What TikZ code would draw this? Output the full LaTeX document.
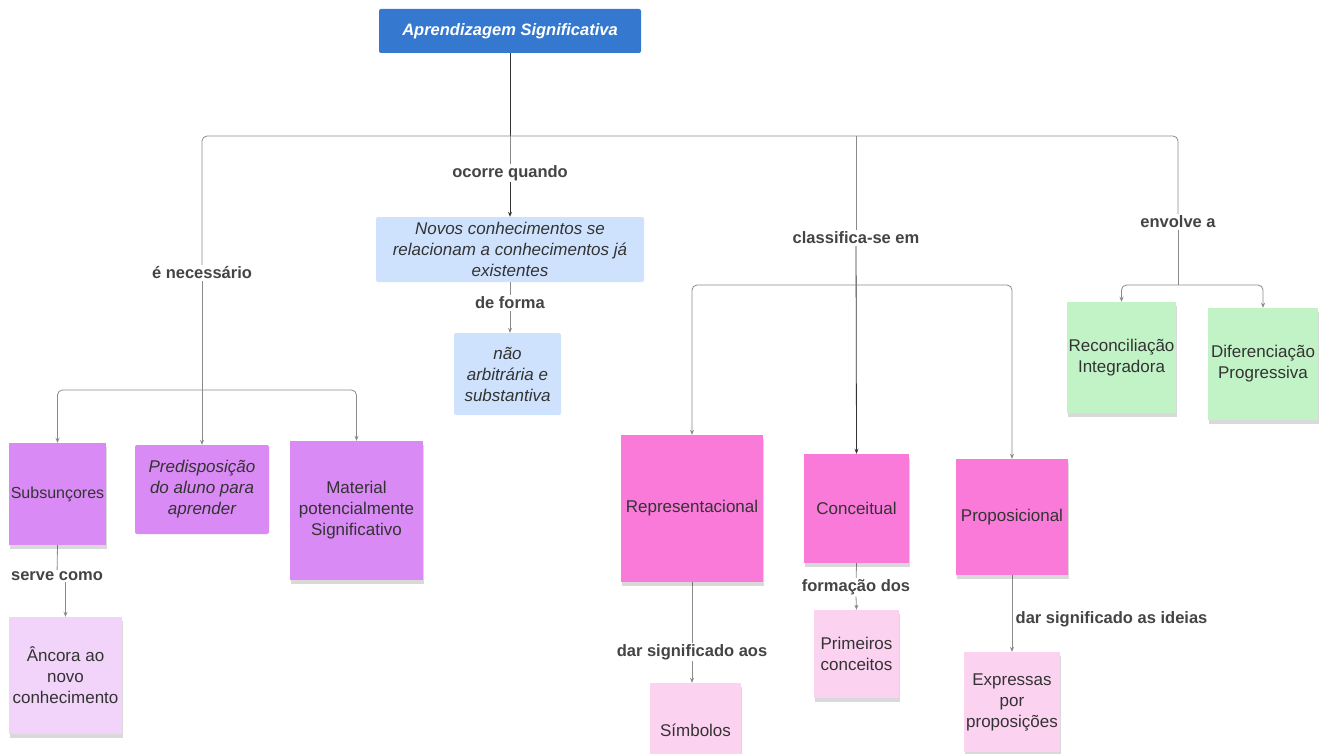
\documentclass[tikz,border=0pt]{standalone}
\usepackage{fontspec}
\setmainfont{Liberation Sans}
\usetikzlibrary{arrows.meta,shadows,backgrounds}
\definecolor{titleblue}{HTML}{3478CF}
\definecolor{lblue}{HTML}{CFE2FD}
\definecolor{purp}{HTML}{DA8AF5}
\definecolor{lpurp}{HTML}{F2D4FA}
\definecolor{pink}{HTML}{FA7ADA}
\definecolor{lpink}{HTML}{FCD2F1}
\definecolor{green}{HTML}{C2F3C6}
\definecolor{txt}{HTML}{333333}
\definecolor{lbl}{HTML}{444444}
\definecolor{lnc}{HTML}{8A8A8A}
\tikzset{
  x=1pt, y=-1pt,
  box/.style={draw=none, align=center, inner sep=2pt, text=txt,
    font=\fontsize{17}{21}\selectfont},
  sticky/.style={box, drop shadow={shadow xshift=1pt, shadow yshift=-4pt, opacity=0.15, fill=black}},
  soft/.style={box, rounded corners=2pt},
  lab/.style={fill=white, inner sep=1.5pt, text=lbl,
    font=\fontsize{16.5}{20}\selectfont\bfseries},
  ln/.style={draw=lnc, line width=0.8pt},
  arr/.style={ln, -{Stealth[length=5pt,width=4pt,fill=txt]}},
  rc/.style={rounded corners=5pt},
}
\begin{document}
\begin{tikzpicture}
\useasboundingbox (0,0) rectangle (1327,754);
\clip (0,0) rectangle (1327,754);
% title
\node[soft, fill=titleblue, text=white, minimum width=262pt, minimum height=44pt,
  font=\fontsize{16.5}{20}\selectfont\bfseries\itshape] (title) at (510,31) {Aprendizagem Significativa};
% centre column
\node[soft, fill=lblue, minimum width=268pt, minimum height=65pt, font=\fontsize{17}{21}\selectfont\itshape]
  (novos) at (510,249.5) {Novos conhecimentos se\\relacionam a conhecimentos já\\existentes};
\node[soft, fill=lblue, minimum width=107pt, minimum height=82pt, font=\fontsize{17}{21}\selectfont\itshape]
  (nao) at (507.5,374) {não\\arbitrária e\\substantiva};
% left column
\node[sticky, fill=purp, minimum width=97pt, minimum height=102pt, inner xsep=0pt,
  font=\fontsize{16}{20}\selectfont] (sub) at (57.5,494) {Subsunçores};
\node[soft, fill=purp, minimum width=134pt, minimum height=89pt, font=\fontsize{17}{21}\selectfont\itshape]
  (pred) at (202,489.5) {Predisposição\\do aluno para\\aprender};
\node[sticky, fill=purp, minimum width=133pt, minimum height=139pt] (mat) at (356.5,510.5) {Material\\potencialmente\\Significativo};
\node[sticky, fill=lpurp, minimum width=113pt, minimum height=117pt] (anc) at (65.5,675.5) {Âncora ao\\novo\\conhecimento};
% classification
\node[sticky, fill=pink, minimum width=142pt, minimum height=147pt] (rep) at (692,508.5) {Representacional};
\node[sticky, fill=pink, minimum width=105pt, minimum height=109pt] (conc) at (856.5,508.5) {Conceitual};
\node[sticky, fill=pink, minimum width=112pt, minimum height=116pt] (prop) at (1012,517) {Proposicional};
\node[sticky, fill=lpink, minimum width=91pt, minimum height=94pt] (simb) at (695.5,730) {Símbolos};
\node[sticky, fill=lpink, minimum width=85pt, minimum height=88pt] (prim) at (856.5,654) {Primeiros\\conceitos};
\node[sticky, fill=lpink, minimum width=94pt, minimum height=100pt] (exp) at (1012,702) {Expressas\\por\\proposições};
% right column
\node[sticky, fill=green, minimum width=107pt, minimum height=111pt] (rec) at (1121.5,357.5) {Reconciliação\\Integradora};
\node[sticky, fill=green, minimum width=110pt, minimum height=112pt] (dif) at (1263,364) {Diferenciação\\Progressiva};
% labels
\node[lab] (oco) at (510,173) {ocorre quando};
\node[lab] (def) at (510,303) {de forma};
\node[lab] (nec) at (202,273) {é necessário};
\node[lab] (cls) at (856,238) {classifica-se em};
\node[lab] (env) at (1178,222) {envolve a};
\node[lab] (serve) at (57,576) {serve como};
\node[lab] (daraos) at (692,652) {dar significado aos};
\node[lab] (form) at (856,587) {formação dos};
\node[lab, anchor=west] (darid) at (1014,619) {dar significado as ideias};
% junctions
\coordinate (busJ) at (510,136);
\coordinate (jL) at (202,390);
\coordinate (jC) at (856,285);
\coordinate (jR) at (1178,285);
\begin{scope}[on background layer]
  \draw[line width=0.8pt, draw=txt] (title.south) -- (busJ);
  \draw[ln, rc] (nec.center) -- (nec |- busJ) -- (env |- busJ) -- (env.center);
  \draw[ln] (cls |- busJ) -- (cls.center);
  \draw[ln] (busJ) -- (oco.center);
  \draw[arr, draw=txt] (oco.south) -- (novos.north);
  \draw[ln] (novos.south) -- (def.center);
  \draw[arr] (def.south) -- (def.south |- nao.north);
  % left branch
  \draw[ln] (nec.center) -- (jL);
  \draw[arr] (jL) -- (pred.north);
  \draw[arr, rc] (jL) -| (sub.north);
  \draw[arr, rc] (jL) -| (mat.north);
  \draw[ln] (sub.south) -- (serve.center);
  \draw[arr] (serve.south -| anc.north) -- (anc.north);
  % classification branch
  \draw[arr, draw=txt] (cls.center) -- (conc.north);
  \draw[arr, rc] (jC) -| (rep.north);
  \draw[arr, rc] (jC) -| (prop.north);
  \draw[ln] (rep.south) -- (daraos.center);
  \draw[arr] (daraos.south) -- (daraos.south |- simb.north);
  \draw[ln] (conc.south) -- (form.center);
  \draw[arr] (form.south) -- (prim.north);
  \draw[arr] (prop.south) -- (prop.south |- exp.north);
  % right branch
  \draw[ln] (env.center) -- (jR);
  \draw[arr, rc] (jR) -| (rec.north);
  \draw[arr, rc] (jR) -| (dif.north);
\end{scope}
\end{tikzpicture}
\end{document}
